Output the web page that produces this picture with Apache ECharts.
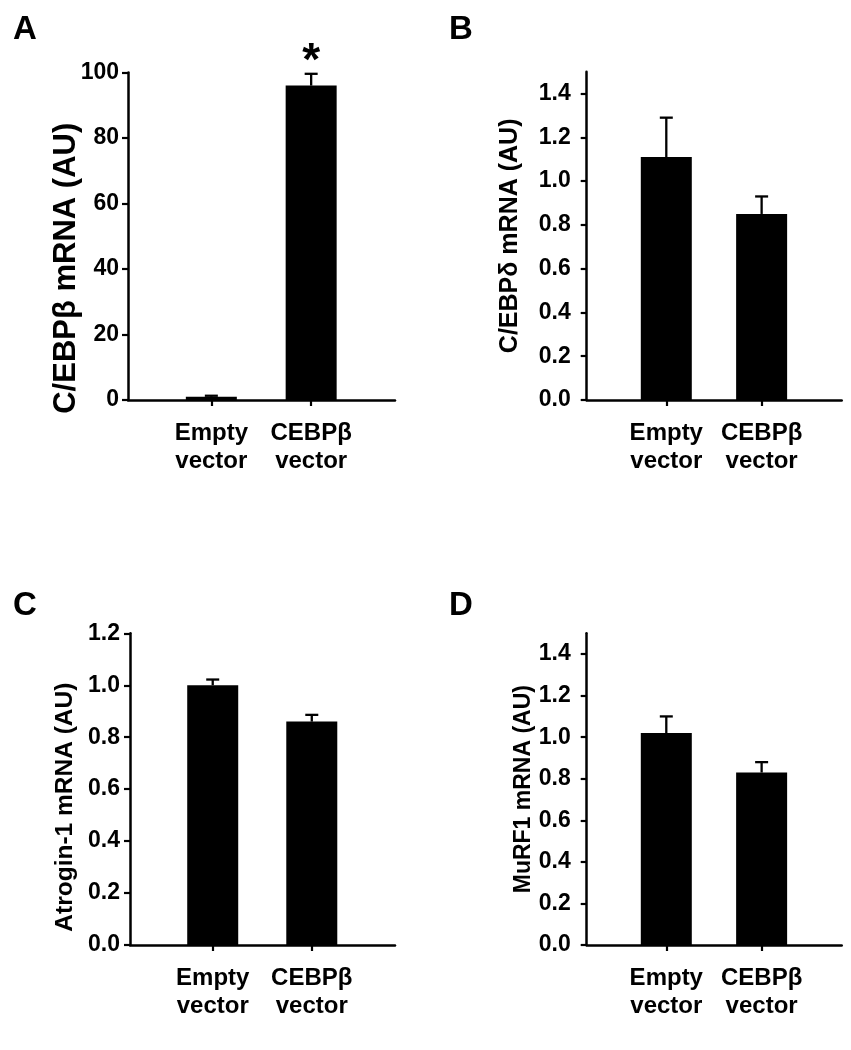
<!DOCTYPE html>
<html>
<head>
<meta charset="utf-8">
<script src="https://cdn.jsdelivr.net/npm/echarts@6/dist/echarts.min.js"></script>
<style>html,body{margin:0;padding:0;background:#fff}#c{width:851px;height:1050px}</style>
</head>
<body>
<div id="c"></div>
<script>
// ---- data ----
const categories = ['Empty\nvector', 'CEBPβ\nvector'];
const catPos = [1, 2];

const valuesA = [1.0, 96.0];
const errorsA = [0.3, 3.6];
const sigA = ['', '*'];
const ticksA = [0, 20, 40, 60, 80, 100];
const nameA = 'C/EBPβ mRNA (AU)';

const valuesB = [1.11, 0.85];
const errorsB = [0.18, 0.08];
const sigB = ['', ''];
const ticksB = [0, 0.2, 0.4, 0.6, 0.8, 1.0, 1.2, 1.4];
const nameB = 'C/EBPδ mRNA (AU)';

const valuesC = [1.0, 0.86];
const errorsC = [0.022, 0.026];
const sigC = ['', ''];
const ticksC = [0, 0.2, 0.4, 0.6, 0.8, 1.0, 1.2];
const nameC = 'Atrogin-1 mRNA (AU)';

const valuesD = [1.02, 0.83];
const errorsD = [0.08, 0.05];
const sigD = ['', ''];
const ticksD = [0, 0.2, 0.4, 0.6, 0.8, 1.0, 1.2, 1.4];
const nameD = 'MuRF1 mRNA (AU)';

const panelLetters = ['A', 'B', 'C', 'D'];

// ---- layout ----
const FONT = '"Liberation Sans", Arial, Helvetica, sans-serif';
const panels = [
  {vals: valuesA, errs: errorsA, sig: sigA, ticks: ticksA, name: nameA, max: 100, dec: 0, lblMargin: 9,
   grid: {left: 128, top: 72.5, width: 267, height: 327.5}, nameGap: 46, nameSize: 31, namePad: [0, 64, 0, 0]},
  {vals: valuesB, errs: errorsB, sig: sigB, ticks: ticksB, name: nameB, max: 1.5, dec: 1, lblMargin: 16,
   grid: {left: 586.7, top: 71.7, width: 255, height: 328.3}, nameGap: 64, nameSize: 25, namePad: [0, 0, 0, 0]},
  {vals: valuesC, errs: errorsC, sig: sigC, ticks: ticksC, name: nameC, max: 1.2, dec: 1, lblMargin: 10,
   grid: {left: 130, top: 633.3, width: 265, height: 311.7}, nameGap: 52, nameSize: 24.5, namePad: [0, 36, 0, 0]},
  {vals: valuesD, errs: errorsD, sig: sigD, ticks: ticksD, name: nameD, max: 1.5, dec: 1, lblMargin: 16,
   grid: {left: 586.7, top: 633.3, width: 255, height: 311.7}, nameGap: 52, nameSize: 23, namePad: [0, 0, 0, 0]}
];
const letterPos = [[13, 13], [449, 13], [13, 589], [449, 589]];

const axisLineStyle = {color: '#000', width: 2.5};
const option = {
  backgroundColor: '#fff',
  animation: false,
  grid: [], xAxis: [], yAxis: [], series: [],
  graphic: panelLetters.map((t, i) => ({
    type: 'text', left: letterPos[i][0], top: letterPos[i][1],
    style: {text: t, font: 'bold 33px ' + FONT, fill: '#000'}
  }))
};

panels.forEach((p, i) => {
  option.grid.push(Object.assign({containLabel: false}, p.grid));
  option.xAxis.push({
    type: 'value', gridIndex: i, min: 0.165, max: 2.84,
    splitLine: {show: false},
    axisLine: {show: true, onZero: false, lineStyle: axisLineStyle},
    axisTick: {show: true, customValues: catPos, length: 6, lineStyle: {color: '#000', width: 2.2}},
    axisLabel: {customValues: catPos, formatter: v => categories[Math.round(v) - 1],
      fontFamily: FONT, fontWeight: 'bold', fontSize: 24, lineHeight: 28, color: '#000', margin: 19}
  });
  option.yAxis.push({
    type: 'value', gridIndex: i, min: 0, max: p.max,
    name: p.name, nameLocation: 'middle', nameRotate: 90, nameGap: p.nameGap, nameMoveOverlap: false,
    nameTextStyle: {fontFamily: FONT, fontWeight: 'bold', fontSize: p.nameSize, color: '#000', padding: p.namePad},
    splitLine: {show: false},
    axisLine: {show: true, lineStyle: axisLineStyle},
    axisTick: {show: true, customValues: p.ticks, length: 6, lineStyle: {color: '#000', width: 2.2}},
    axisLabel: {customValues: p.ticks, formatter: v => Number(v).toFixed(p.dec),
      fontFamily: FONT, fontWeight: 'bold', fontSize: 23, color: '#000', margin: p.lblMargin}
  });
  option.series.push({
    type: 'bar', xAxisIndex: i, yAxisIndex: i, barWidth: 51,
    itemStyle: {color: '#000'},
    data: catPos.map((x, k) => [x, p.vals[k]])
  });
  option.series.push({
    type: 'custom', xAxisIndex: i, yAxisIndex: i, clip: false, z: 5,
    data: catPos.map((x, k) => [x, p.vals[k], p.errs[k], k]),
    renderItem: (params, api) => {
      const x = api.value(0), y = api.value(1), e = api.value(2), k = api.value(3);
      const p0 = api.coord([x, y]);
      const p1 = api.coord([x, y + e]);
      const st = {stroke: '#000', lineWidth: 2.3};
      const children = [
        {type: 'line', shape: {x1: p0[0], y1: p0[1], x2: p1[0], y2: p1[1]}, style: st},
        {type: 'line', shape: {x1: p1[0] - 6.5, y1: p1[1], x2: p1[0] + 6.5, y2: p1[1]}, style: st}
      ];
      const s = p.sig[k];
      if (s) {
        children.push({type: 'text', x: p1[0], y: p1[1] + 12,
          style: {text: s, font: 'bold 46px ' + FONT, fill: '#000', textAlign: 'center', textVerticalAlign: 'bottom'}});
      }
      return {type: 'group', children};
    }
  });
});

const chart = echarts.init(document.getElementById('c'), null, {renderer: 'canvas'});
chart.setOption(option);
</script>
</body>
</html>
